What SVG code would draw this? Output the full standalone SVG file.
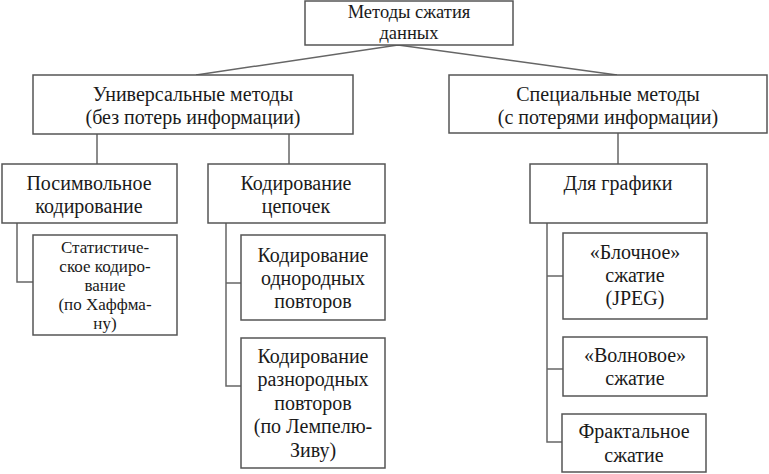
<svg xmlns="http://www.w3.org/2000/svg" width="769" height="474" viewBox="0 0 769 474">
<style>
.box{fill:#fff;stroke:#555;stroke-width:1.5}
.ln{fill:none;stroke:#666;stroke-width:1.5}
text{font-family:"Liberation Serif","Times New Roman",serif;font-size:20px;fill:#1a1a1a;text-anchor:middle}
.title{font-size:18.5px}
.small{font-size:17px}
</style>
<rect x="0" y="0" width="769" height="474" fill="#fff"/>
<g id="connectors">
<polyline class="ln" points="196,75 398,45 617,75"/>
<line class="ln" x1="97" y1="134" x2="97" y2="164"/>
<line class="ln" x1="289" y1="134" x2="289" y2="164"/>
<line class="ln" x1="618" y1="133" x2="618" y2="164"/>
<polyline class="ln" points="17,223 17,282 33,282"/>
<polyline class="ln" points="226,223 226,386 241,386"/>
<line class="ln" x1="226" y1="283" x2="241" y2="283"/>
<polyline class="ln" points="547,223 547,442 562,442"/>
<line class="ln" x1="547" y1="276" x2="563" y2="276"/>
<line class="ln" x1="547" y1="369" x2="563" y2="369"/>
</g>
<g id="root">
<rect class="box" x="305" y="1" width="208" height="44"/>
<text class="title" x="409" y="18">Методы сжатия</text>
<text class="title" x="409" y="39">данных</text>
</g>
<g id="universal">
<rect class="box" x="33" y="75" width="320" height="59"/>
<text x="193" y="101">Универсальные методы</text>
<text x="193" y="124">(без потерь информации)</text>
</g>
<g id="special">
<rect class="box" x="449" y="75" width="318" height="58"/>
<text x="608" y="101">Специальные методы</text>
<text x="608" y="124">(с потерями информации)</text>
</g>
<g id="posymbol">
<rect class="box" x="2" y="164" width="175" height="59"/>
<text x="89" y="190">Посимвольное</text>
<text x="89" y="213">кодирование</text>
</g>
<g id="statistical">
<rect class="box" x="33" y="235" width="144" height="100"/>
<text class="small" x="105" y="253">Статистиче-</text>
<text class="small" x="105" y="272">ское кодиро-</text>
<text class="small" x="105" y="291">вание</text>
<text class="small" x="105" y="310">(по Хаффма-</text>
<text class="small" x="105" y="329">ну)</text>
</g>
<g id="chains">
<rect class="box" x="208" y="164" width="177" height="59"/>
<text x="296" y="190">Кодирование</text>
<text x="296" y="213">цепочек</text>
</g>
<g id="homogeneous">
<rect class="box" x="241" y="235" width="144" height="85"/>
<text x="313" y="262">Кодирование</text>
<text x="313" y="285">однородных</text>
<text x="313" y="308">повторов</text>
</g>
<g id="heterogeneous">
<rect class="box" x="241" y="338" width="144" height="130"/>
<text x="313" y="363">Кодирование</text>
<text x="313" y="386">разнородных</text>
<text x="313" y="410">повторов</text>
<text x="313" y="433">(по Лемпелю-</text>
<text x="313" y="457">Зиву)</text>
</g>
<g id="graphics">
<rect class="box" x="530" y="164" width="177" height="59"/>
<text x="618" y="190">Для графики</text>
</g>
<g id="block">
<rect class="box" x="563" y="233" width="144" height="86"/>
<text x="635" y="259">«Блочное»</text>
<text x="635" y="282">сжатие</text>
<text x="635" y="305">(JPEG)</text>
</g>
<g id="wave">
<rect class="box" x="563" y="337" width="144" height="59"/>
<text x="635" y="362">«Волновое»</text>
<text x="635" y="385">сжатие</text>
</g>
<g id="fractal">
<rect class="box" x="562" y="414" width="144" height="58"/>
<text x="634" y="438">Фрактальное</text>
<text x="634" y="462">сжатие</text>
</g>
</svg>
